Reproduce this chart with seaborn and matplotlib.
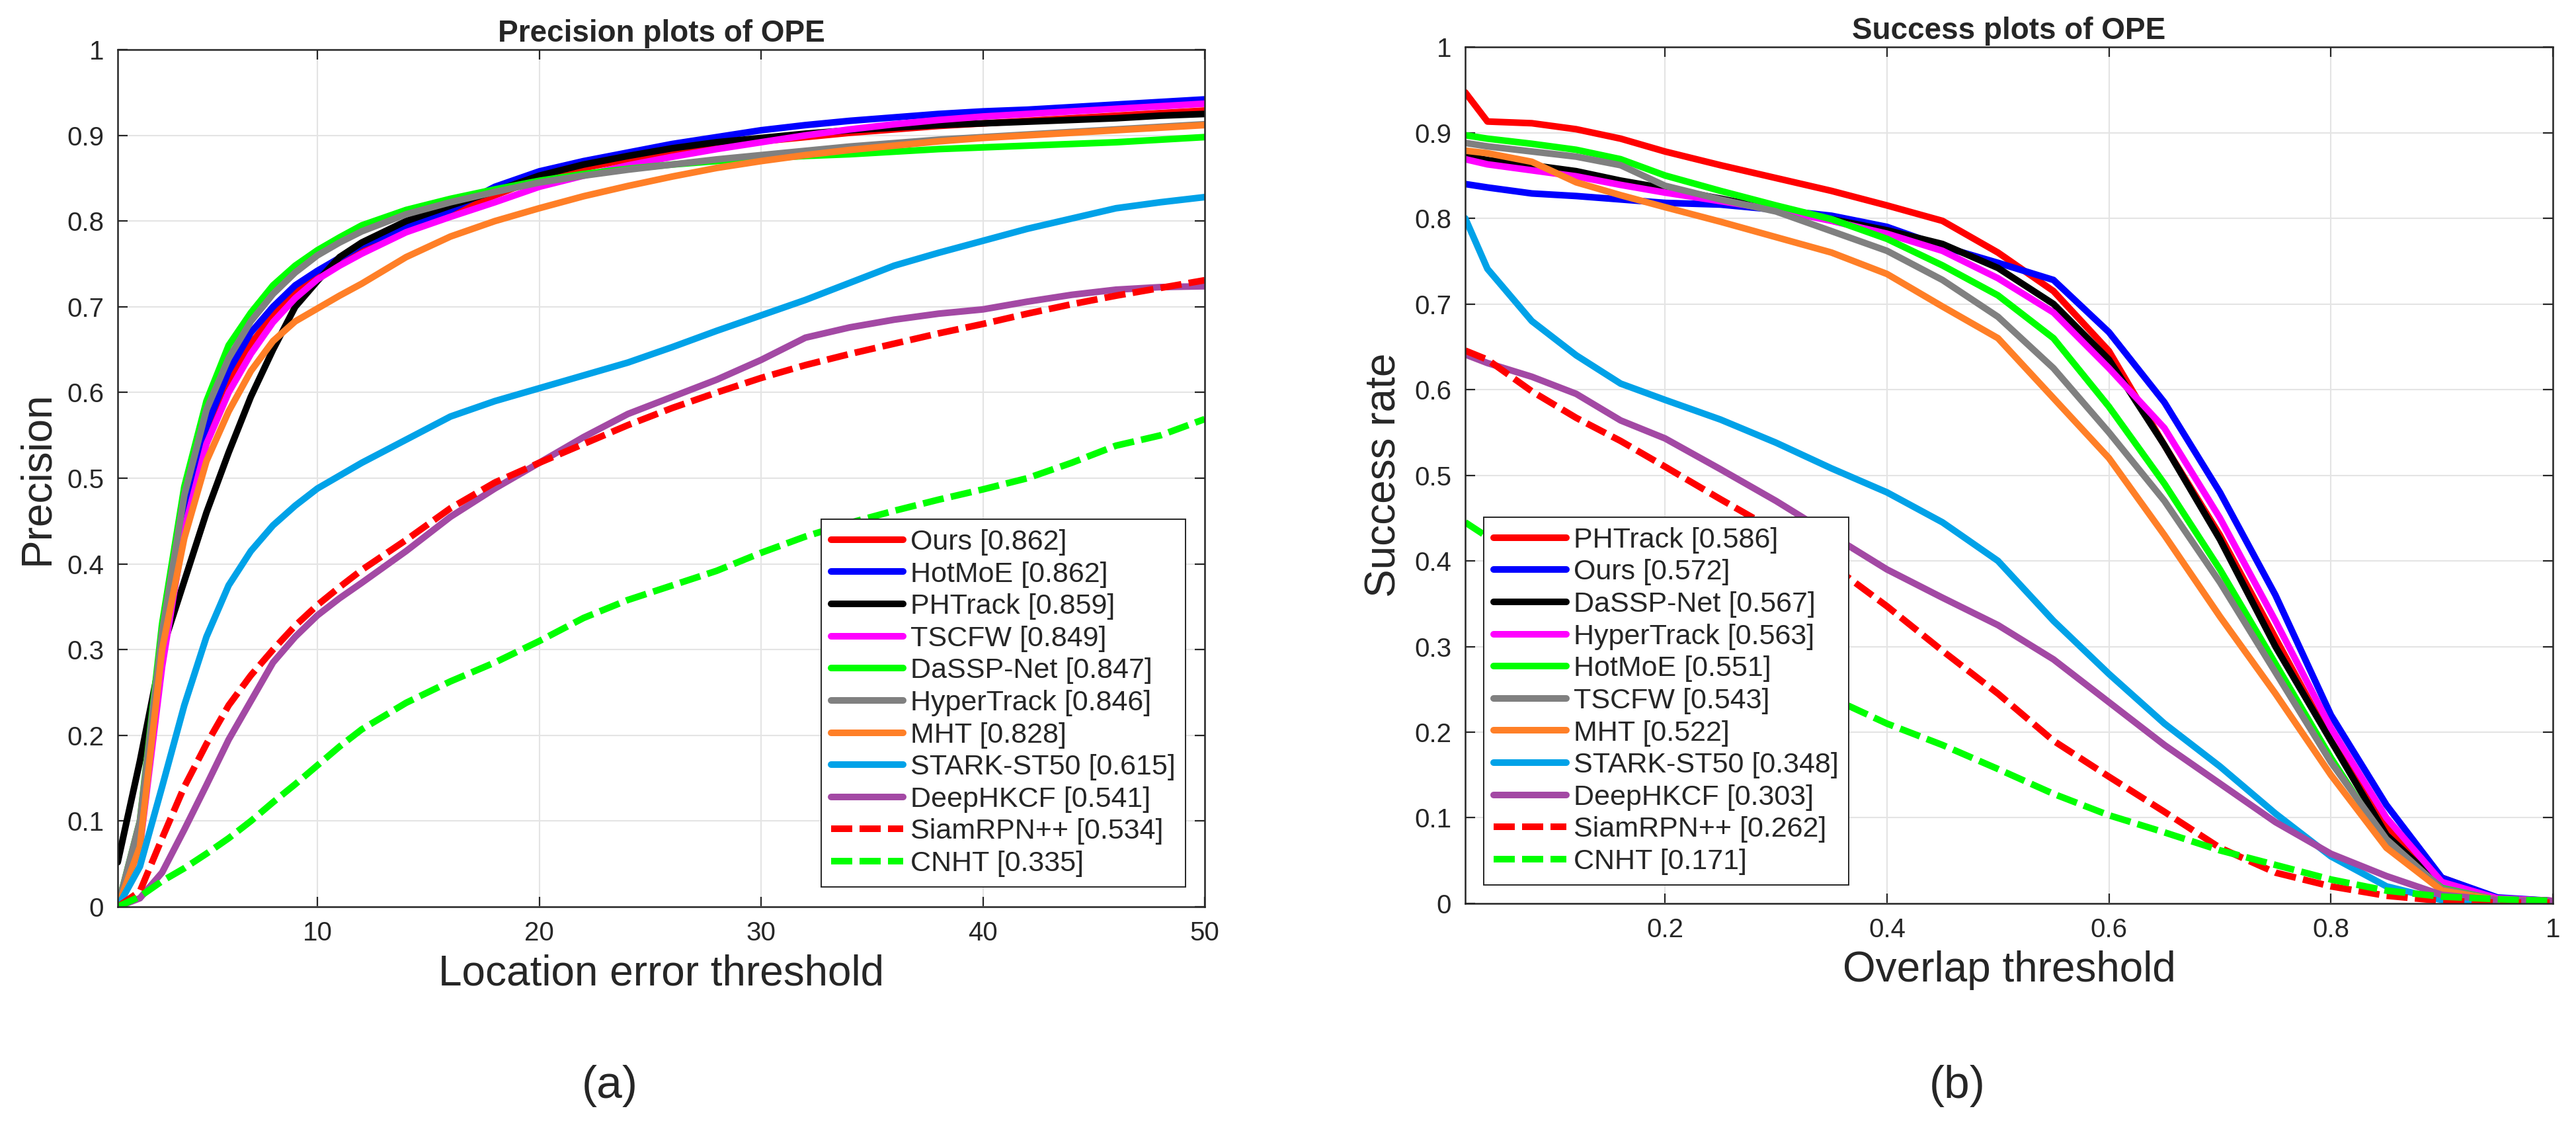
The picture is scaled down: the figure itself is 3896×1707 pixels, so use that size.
import matplotlib
matplotlib.use('Agg')
import matplotlib.pyplot as plt
import seaborn as sns

# ---------------- (a) precision plot data ----------------
prec_x = [1, 2, 3, 4, 5, 6, 7, 8, 9, 10, 11, 12, 14, 16, 18, 20, 22, 24, 26, 28,
          30, 32, 34, 36, 38, 40, 42, 44, 46, 48, 50]
prec_names = ['Ours', 'HotMoE', 'PHTrack', 'TSCFW', 'DaSSP-Net', 'HyperTrack',
              'MHT', 'STARK-ST50', 'DeepHKCF', 'SiamRPN++', 'CNHT']
prec_scores = [0.862, 0.862, 0.859, 0.849, 0.847, 0.846, 0.828, 0.615, 0.541, 0.534, 0.335]

prec_ours = [0.0, 0.075, 0.29, 0.45, 0.55, 0.612, 0.657, 0.69, 0.716, 0.737, 0.754, 0.768,
             0.79, 0.81, 0.83, 0.85, 0.862, 0.872, 0.88, 0.887, 0.893, 0.898, 0.903, 0.907,
             0.911, 0.914, 0.917, 0.92, 0.923, 0.926, 0.929]
prec_hotmoe = [0.0, 0.08, 0.30, 0.46, 0.56, 0.625, 0.67, 0.70, 0.725, 0.742, 0.757, 0.772,
               0.793, 0.813, 0.84, 0.858, 0.87, 0.88, 0.89, 0.898, 0.906, 0.912, 0.917, 0.921,
               0.925, 0.928, 0.93, 0.933, 0.936, 0.939, 0.942]
prec_phtrack = [0.052, 0.17, 0.30, 0.38, 0.46, 0.53, 0.595, 0.65, 0.70, 0.73, 0.758, 0.775,
                0.80, 0.818, 0.835, 0.853, 0.866, 0.876, 0.885, 0.892, 0.897, 0.902, 0.906,
                0.909, 0.912, 0.914, 0.916, 0.918, 0.92, 0.923, 0.925]
prec_tscfw = [0.0, 0.07, 0.28, 0.44, 0.54, 0.60, 0.645, 0.682, 0.71, 0.732, 0.748, 0.762,
              0.787, 0.805, 0.822, 0.84, 0.853, 0.865, 0.875, 0.884, 0.892, 0.90, 0.907, 0.913,
              0.918, 0.922, 0.925, 0.928, 0.931, 0.934, 0.937]
prec_dassp = [0.0, 0.10, 0.33, 0.49, 0.59, 0.655, 0.693, 0.725, 0.748, 0.766, 0.781, 0.795,
              0.813, 0.826, 0.837, 0.847, 0.855, 0.861, 0.866, 0.87, 0.873, 0.876, 0.878,
              0.881, 0.884, 0.886, 0.888, 0.89, 0.892, 0.895, 0.898]
prec_hyper = [0.0, 0.10, 0.32, 0.48, 0.58, 0.64, 0.683, 0.715, 0.74, 0.76, 0.775, 0.788,
              0.808, 0.822, 0.834, 0.845, 0.853, 0.86, 0.866, 0.872, 0.877, 0.882, 0.887,
              0.891, 0.895, 0.898, 0.901, 0.904, 0.907, 0.91, 0.913]
prec_mht = [0.0, 0.07, 0.30, 0.43, 0.52, 0.578, 0.625, 0.66, 0.683, 0.698, 0.713, 0.727,
            0.758, 0.782, 0.80, 0.815, 0.829, 0.841, 0.852, 0.862, 0.87, 0.877, 0.883, 0.888,
            0.893, 0.897, 0.90, 0.903, 0.906, 0.909, 0.912]
prec_stark = [0.0, 0.047, 0.14, 0.235, 0.315, 0.375, 0.415, 0.445, 0.468, 0.488, 0.503, 0.518,
              0.545, 0.572, 0.59, 0.605, 0.62, 0.635, 0.653, 0.672, 0.69, 0.708, 0.728, 0.748,
              0.763, 0.777, 0.791, 0.803, 0.815, 0.822, 0.828]
prec_deephkcf = [0.0, 0.01, 0.04, 0.09, 0.142, 0.195, 0.24, 0.285, 0.315, 0.34, 0.36, 0.378,
                 0.415, 0.455, 0.488, 0.518, 0.548, 0.575, 0.595, 0.615, 0.638, 0.664, 0.676,
                 0.685, 0.692, 0.697, 0.706, 0.714, 0.72, 0.723, 0.724]
prec_siamrpn = [0.0, 0.018, 0.08, 0.14, 0.19, 0.235, 0.27, 0.30, 0.328, 0.352, 0.373, 0.393,
                0.428, 0.465, 0.495, 0.518, 0.54, 0.562, 0.582, 0.60, 0.617, 0.632, 0.645,
                0.657, 0.669, 0.68, 0.692, 0.703, 0.713, 0.722, 0.731]
prec_cnht = [0.0, 0.012, 0.03, 0.045, 0.062, 0.08, 0.10, 0.122, 0.143, 0.165, 0.187, 0.207,
             0.238, 0.263, 0.285, 0.31, 0.337, 0.358, 0.375, 0.392, 0.413, 0.432, 0.448,
             0.462, 0.475, 0.487, 0.50, 0.518, 0.538, 0.55, 0.569]

# ---------------- (b) success plot data ----------------
succ_x = [0.02, 0.04, 0.08, 0.12, 0.16, 0.2, 0.25, 0.3, 0.35, 0.4, 0.45, 0.5, 0.55, 0.6,
          0.65, 0.7, 0.75, 0.8, 0.85, 0.9, 0.95, 1.0]
succ_names = ['PHTrack', 'Ours', 'DaSSP-Net', 'HyperTrack', 'HotMoE', 'TSCFW', 'MHT',
              'STARK-ST50', 'DeepHKCF', 'SiamRPN++', 'CNHT']
succ_scores = [0.586, 0.572, 0.567, 0.563, 0.551, 0.543, 0.522, 0.348, 0.303, 0.262, 0.171]

succ_phtrack = [0.947, 0.913, 0.911, 0.904, 0.893, 0.878, 0.862, 0.847, 0.832, 0.815, 0.797,
                0.76, 0.715, 0.645, 0.535, 0.43, 0.31, 0.19, 0.09, 0.03, 0.006, 0.003]
succ_ours = [0.840, 0.836, 0.829, 0.826, 0.822, 0.818, 0.816, 0.81, 0.803, 0.79, 0.767,
             0.748, 0.728, 0.667, 0.585, 0.48, 0.36, 0.22, 0.115, 0.03, 0.007, 0.003]
succ_dassp = [0.873, 0.868, 0.862, 0.855, 0.844, 0.835, 0.823, 0.81, 0.799, 0.786, 0.77,
              0.742, 0.70, 0.635, 0.535, 0.425, 0.30, 0.19, 0.08, 0.02, 0.005, 0.003]
succ_hyper = [0.869, 0.863, 0.856, 0.849, 0.839, 0.83, 0.82, 0.81, 0.797, 0.782, 0.762,
              0.73, 0.69, 0.625, 0.555, 0.45, 0.33, 0.205, 0.10, 0.025, 0.006, 0.003]
succ_hotmoe = [0.897, 0.893, 0.887, 0.880, 0.869, 0.85, 0.832, 0.815, 0.799, 0.776, 0.745,
               0.71, 0.66, 0.58, 0.49, 0.39, 0.28, 0.17, 0.07, 0.018, 0.004, 0.003]
succ_tscfw = [0.888, 0.884, 0.878, 0.872, 0.862, 0.838, 0.822, 0.808, 0.785, 0.762, 0.728,
              0.685, 0.625, 0.55, 0.47, 0.375, 0.27, 0.165, 0.075, 0.017, 0.004, 0.003]
succ_mht = [0.879, 0.876, 0.866, 0.842, 0.827, 0.813, 0.796, 0.778, 0.76, 0.735, 0.697,
            0.66, 0.59, 0.52, 0.43, 0.335, 0.245, 0.15, 0.065, 0.015, 0.004, 0.003]
succ_stark = [0.80, 0.741, 0.68, 0.64, 0.607, 0.588, 0.565, 0.538, 0.508, 0.48, 0.445,
              0.40, 0.33, 0.268, 0.21, 0.16, 0.105, 0.055, 0.02, 0.004, 0.002, 0.002]
succ_deephkcf = [0.641, 0.631, 0.615, 0.595, 0.564, 0.543, 0.507, 0.47, 0.43, 0.39, 0.357,
                 0.325, 0.285, 0.235, 0.185, 0.14, 0.095, 0.058, 0.032, 0.01, 0.004, 0.003]
succ_siamrpn = [0.6455, 0.635, 0.598, 0.567, 0.54, 0.51, 0.472, 0.435, 0.395, 0.347, 0.295,
                0.245, 0.19, 0.148, 0.107, 0.065, 0.036, 0.02, 0.009, 0.003, 0.001, 0.001]
succ_cnht = [0.445, 0.428, 0.395, 0.365, 0.335, 0.31, 0.285, 0.265, 0.24, 0.21, 0.185,
             0.157, 0.128, 0.103, 0.083, 0.062, 0.045, 0.028, 0.015, 0.008, 0.005, 0.003]

prec_curves = [prec_ours, prec_hotmoe, prec_phtrack, prec_tscfw, prec_dassp, prec_hyper,
               prec_mht, prec_stark, prec_deephkcf, prec_siamrpn, prec_cnht]
succ_curves = [succ_phtrack, succ_ours, succ_dassp, succ_hyper, succ_hotmoe, succ_tscfw,
               succ_mht, succ_stark, succ_deephkcf, succ_siamrpn, succ_cnht]

y_ticks = [0, 0.1, 0.2, 0.3, 0.4, 0.5, 0.6, 0.7, 0.8, 0.9, 1]
y_ticklabels = ['0', '0.1', '0.2', '0.3', '0.4', '0.5', '0.6', '0.7', '0.8', '0.9', '1']
prec_xticks = [10, 20, 30, 40, 50]
succ_xticks = [0.2, 0.4, 0.6, 0.8, 1]
succ_xticklabels = ['0.2', '0.4', '0.6', '0.8', '1']

# colours / styles by rank (same for both panels)
rank_colors = ['#FF0000', '#0000FF', '#000000', '#FF00FF', '#00FF00', '#808080',
               '#FF7F27', '#00A2E8', '#A349A4', '#FF0000', '#00FF00']
dash = (0, (3.2, 1.1))
rank_styles = ['-'] * 9 + [dash, dash]

sns.set_theme(style='whitegrid', rc={
    'grid.color': '#E4E4E4', 'grid.linewidth': 1.5,
    'axes.edgecolor': '#262626', 'axes.linewidth': 1.8,
    'xtick.bottom': True, 'ytick.left': True,
})
plt.rcParams['font.family'] = ['Liberation Sans', 'DejaVu Sans']

fig = plt.figure(figsize=(38.96, 17.07), dpi=100)
ax1 = fig.add_axes([0.0457, 0.1968, 0.42197, 0.7592])
ax2 = fig.add_axes([0.5688, 0.19977, 0.42223, 0.7586])


def draw_panel(ax, x, curves, names, scores):
    for rank, (name, y) in enumerate(zip(names, curves)):
        sns.lineplot(x=x, y=y, ax=ax, color=rank_colors[rank], linewidth=7.2,
                     linestyle=rank_styles[rank], estimator=None, sort=False,
                     label=f'{name} [{scores[rank]:.3f}]')
    ax.set_ylim(0, 1)
    ax.set_yticks(y_ticks)
    ax.set_yticklabels(y_ticklabels)
    ax.tick_params(axis='both', which='major', direction='in', length=11, width=1.6,
                   color='#262626', labelsize=29, labelcolor='#262626', pad=15,
                   top=True, right=True, bottom=True, left=True)
    ax.grid(True, color='#E4E4E4', linewidth=1.5)
    ax.set_axisbelow(True)
    for sp in ax.spines.values():
        sp.set_visible(True)
        sp.set_color('#262626')
        sp.set_linewidth(1.8)


draw_panel(ax1, prec_x, prec_curves, prec_names, prec_scores)
ax1.set_xlim(1, 50)
ax1.set_xticks(prec_xticks)
ax1.set_xticklabels([str(t) for t in prec_xticks])
ax1.set_title('Precision plots of OPE', fontsize=33, fontweight='bold', pad=8.6)
ax1.set_xlabel('Location error threshold', fontsize=46, color='#262626', labelpad=9)
ax1.set_ylabel('Precision', fontsize=46, color='#262626', labelpad=11)
leg1 = ax1.legend(loc='lower right', bbox_to_anchor=(0.9824, 0.0231), borderaxespad=0,
                  fontsize=31, frameon=True, fancybox=False, framealpha=1,
                  edgecolor='#262626', facecolor='white', borderpad=0.35,
                  labelspacing=0.2, handlelength=2.55, handletextpad=0.25)
leg1.get_frame().set_linewidth(1.4)

draw_panel(ax2, succ_x, succ_curves, succ_names, succ_scores)
ax2.set_xlim(0.02, 1)
ax2.set_xticks(succ_xticks)
ax2.set_xticklabels(succ_xticklabels)
ax2.set_title('Success plots of OPE', fontsize=33, fontweight='bold', pad=8.6)
ax2.set_xlabel('Overlap threshold', fontsize=46, color='#262626', labelpad=9)
ax2.set_ylabel('Success rate', fontsize=46, color='#262626', labelpad=11)
leg2 = ax2.legend(loc='lower left', bbox_to_anchor=(0.017, 0.0216), borderaxespad=0,
                  fontsize=31, frameon=True, fancybox=False, framealpha=1,
                  edgecolor='#262626', facecolor='white', borderpad=0.35,
                  labelspacing=0.2, handlelength=2.55, handletextpad=0.25)
leg2.get_frame().set_linewidth(1.4)

fig.text(0.2367, 0.038, '(a)', ha='center', va='center', fontsize=50)
fig.text(0.7598, 0.038, '(b)', ha='center', va='center', fontsize=50)

fig.savefig('out.png', dpi=100)
